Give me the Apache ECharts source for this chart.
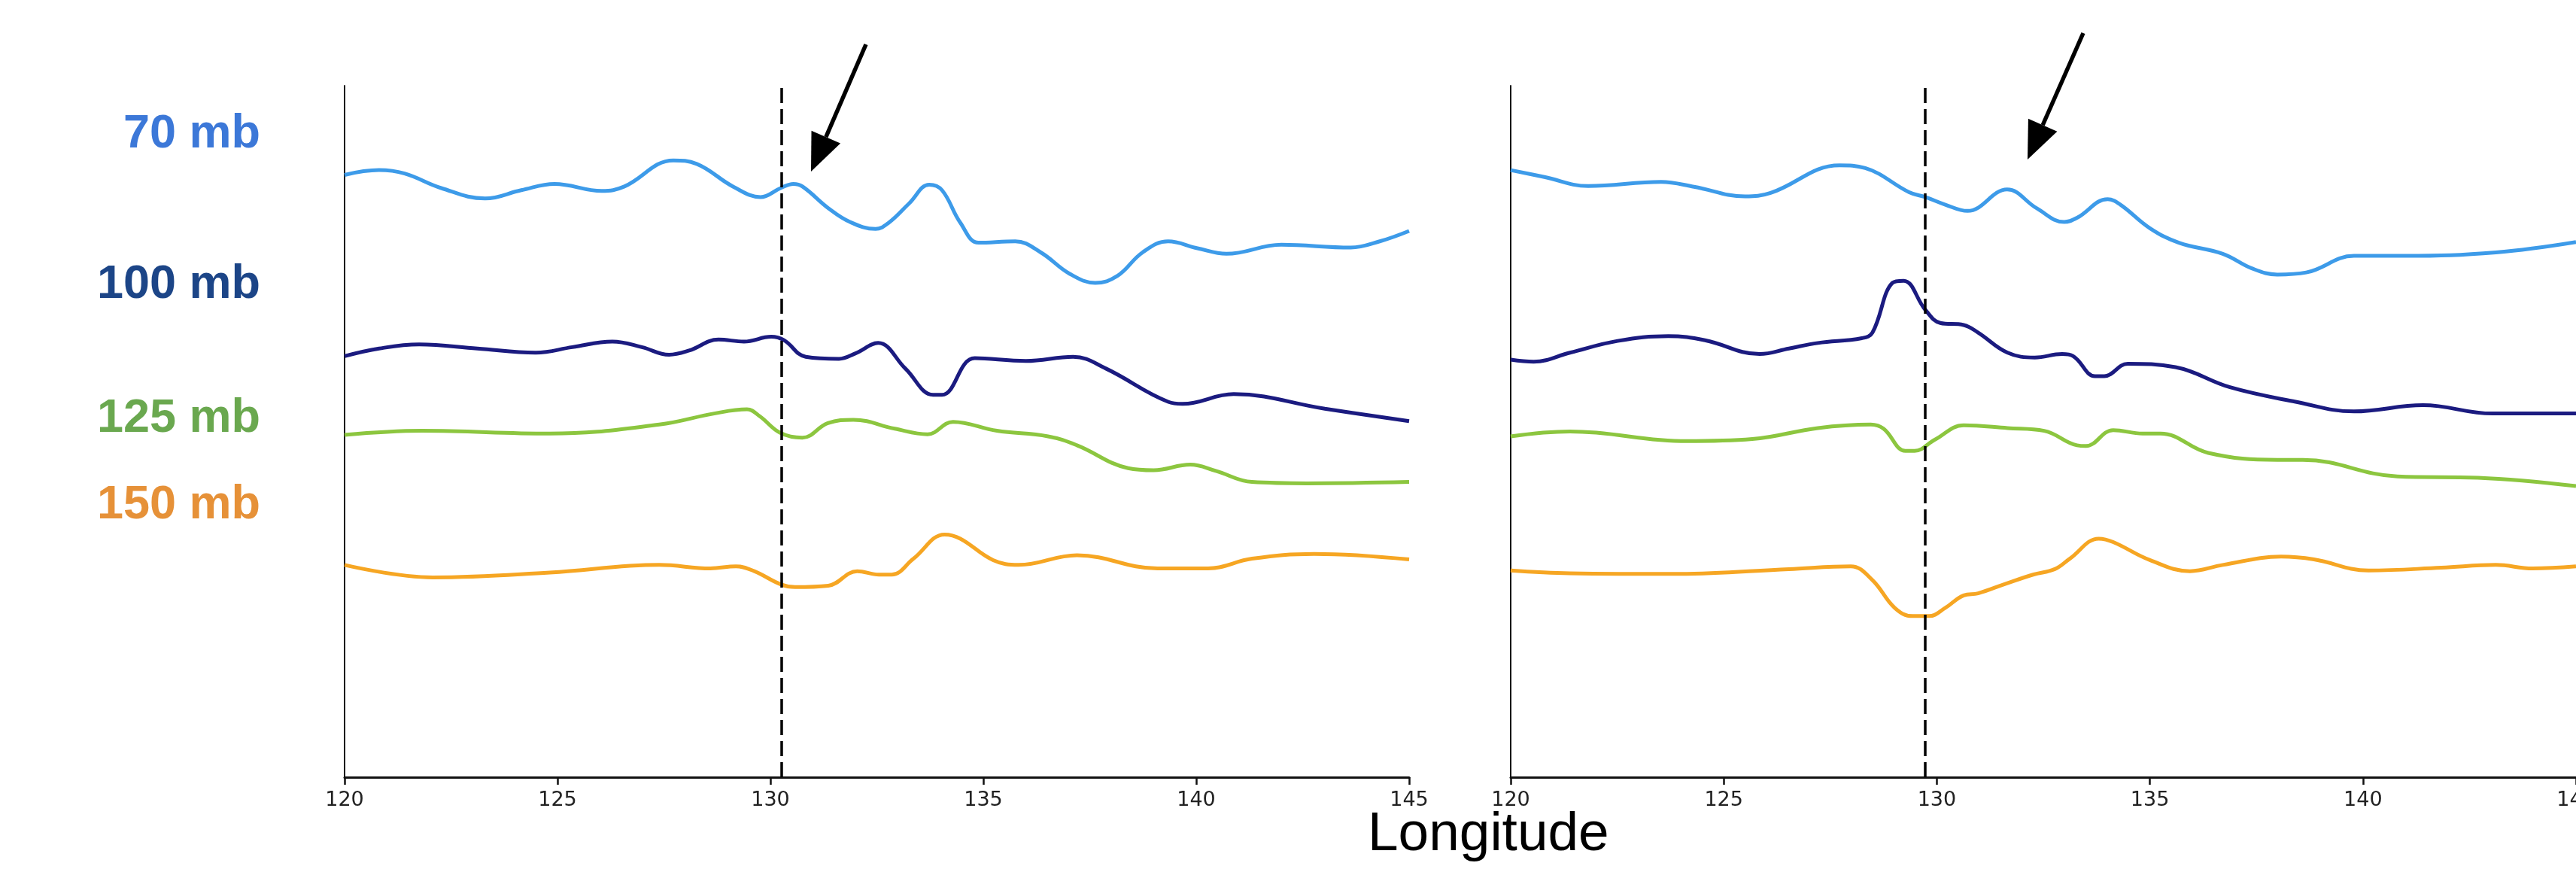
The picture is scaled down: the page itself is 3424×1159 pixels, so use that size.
<!DOCTYPE html>
<html>
<head>
<meta charset="utf-8">
<title>Longitude cross-sections</title>
<script src="https://cdn.jsdelivr.net/npm/echarts@6/dist/echarts.min.js"></script>
<style>
	html,body{margin:0;padding:0;background:#fff;overflow:hidden;}
	#main{width:3424px;height:1159px;}
</style>
</head>
<body>
<div id="main"></div>
<script>

/* longitude ticks */
const lonTicks = [120, 125, 130, 135, 140, 145];

/* pressure levels, label colours, line colours */
const levels      = ["70 mb", "100 mb", "125 mb", "150 mb"];
const labelColors = ["#3c78d8", "#1c4587", "#6aa84f", "#e69138"];
const lineColors  = ["#3d9be9", "#1b1b80", "#8cc63f", "#f6a623"];

/* dashed reference longitude, one per panel */
const markLon = [130.26, 129.73];

/* left panel: [longitude, relative height] */
const left70 = [[120.0,87.1],[120.81,87.8],[121.41,87.3],[122.27,85.2],[123.30,83.7],[124.15,84.9],[124.93,85.8],[126.04,84.8],[126.56,85.4],[127.72,89.2],[128.27,88.7],[129.13,85.4],[129.77,83.9],[130.24,85.2],[130.54,85.8],[130.76,85.4],[131.36,82.3],[131.87,80.3],[132.47,79.3],[132.78,80.2],[133.26,83.0],[133.73,85.7],[134.03,84.9],[134.46,80.2],[134.89,77.3],[135.75,77.5],[136.35,75.9],[137.03,72.8],[137.63,71.5],[138.15,72.5],[138.74,75.9],[139.34,77.5],[140.03,76.5],[140.71,75.7],[142.0,77.0],[143.63,76.6],[144.31,77.5],[145.0,79.0]];
const left100 = [[120.0,60.9],[120.81,62.0],[121.75,62.6],[123.12,62.0],[124.49,61.4],[125.35,62.2],[126.29,63.0],[126.98,62.2],[127.62,61.1],[128.09,61.7],[128.78,63.3],[129.38,63.0],[130.02,63.7],[130.32,63.2],[130.83,60.8],[131.61,60.5],[132.0,61.3],[132.53,62.8],[133.17,59.1],[133.82,55.3],[134.03,55.3],[134.80,60.6],[136.00,60.2],[137.11,60.8],[137.88,59.1],[139.34,54.3],[139.68,54.0],[140.88,55.4],[143.02,53.3],[145.0,51.5]];
const left125 = [[120.0,49.5],[121.82,50.1],[124.82,49.7],[127.39,51.0],[128.68,52.6],[129.45,53.2],[129.75,52.2],[130.23,49.8],[130.75,49.1],[131.35,51.2],[131.95,51.7],[132.92,50.4],[133.69,49.6],[134.29,51.4],[135.32,50.1],[136.52,49.3],[137.20,48.0],[138.40,44.7],[139.00,44.4],[139.86,45.2],[140.46,44.3],[141.31,42.7],[142.60,42.5],[145.0,42.7]];
const left150 = [[120.0,30.7],[122.07,28.9],[124.82,29.6],[127.39,30.7],[128.59,30.2],[129.19,30.5],[129.62,29.8],[130.24,27.9],[130.58,27.5],[131.36,27.7],[132.04,29.8],[132.55,29.3],[132.85,29.3],[133.36,31.6],[134.09,35.1],[134.46,34.5],[135.23,31.4],[135.83,30.7],[137.20,32.1],[139.09,30.2],[140.28,30.2],[141.31,31.6],[142.77,32.3],[145.0,31.5]];

/* right panel */
const right70 = [[120.0,87.8],[120.79,86.8],[121.82,85.5],[123.53,86.1],[124.30,85.4],[125.50,84.0],[126.10,84.5],[127.72,88.5],[128.32,88.1],[129.35,84.6],[129.73,83.9],[130.20,82.8],[130.72,81.9],[131.65,85.0],[132.34,82.3],[132.99,80.3],[133.29,80.9],[134.01,83.6],[134.31,82.8],[135.0,79.4],[135.68,77.3],[136.71,75.7],[137.39,73.6],[137.99,72.7],[138.67,73.0],[139.79,75.4],[140.98,75.4],[143.12,75.9],[145.0,77.4]];
const right100 = [[120.0,60.4],[120.54,60.1],[121.39,61.4],[122.51,63.1],[123.70,63.8],[124.56,63.2],[125.84,61.2],[126.53,62.0],[127.21,62.8],[128.24,63.5],[128.49,64.3],[128.96,71.5],[129.22,71.8],[129.73,67.6],[130.08,65.7],[130.63,65.4],[130.97,64.3],[131.66,61.4],[132.3,60.7],[132.94,61.2],[133.20,60.9],[133.71,58.0],[133.93,58.0],[134.48,59.8],[135.60,59.3],[136.88,56.4],[138.42,54.3],[139.79,52.9],[141.41,53.8],[143.04,52.6],[145.0,52.6]];
const right125 = [[120.0,49.3],[121.39,50.0],[124.13,48.6],[125.67,48.9],[127.21,50.5],[128.45,51.0],[128.75,50.4],[129.26,47.2],[129.48,47.2],[129.95,48.8],[130.63,50.9],[131.66,50.5],[132.52,50.1],[133.29,48.0],[133.50,47.9],[134.14,50.2],[134.83,49.7],[135.25,49.7],[136.37,46.9],[137.99,45.9],[138.59,45.9],[140.81,43.5],[142.70,43.3],[145.0,42.1]];
const right150 = [[120.0,29.9],[121.39,29.5],[123.96,29.4],[126.53,30.1],[127.98,30.5],[128.49,28.5],[129.01,24.5],[129.43,23.3],[129.82,23.3],[130.20,24.5],[130.63,26.3],[130.97,26.6],[131.58,27.9],[132.26,29.3],[132.77,30.1],[133.12,31.6],[133.80,34.5],[134.14,34.0],[135.0,31.4],[135.94,29.8],[136.71,30.7],[138.08,31.9],[138.85,31.5],[140.13,29.9],[141.84,30.3],[143.12,30.7],[143.98,30.2],[145.0,30.5]];

const panels = [
	[left70, left100, left125, left150],
	[right70, right100, right125, right150]
];

const chart = echarts.init(document.getElementById("main"), null, {renderer: "canvas"});

function makeX(gridIndex){
	return {
		type: "value", gridIndex,
		min: lonTicks[0], max: lonTicks[lonTicks.length - 1], interval: 5,
		axisLine: {show: true, onZero: false, lineStyle: {color: "#111", width: 3}},
		axisTick: {show: true, length: 10, lineStyle: {color: "#111", width: 2.5}},
		axisLabel: {
			show: true, margin: 17, color: "#222",
			fontFamily: "DejaVu Sans", fontSize: 27
		},
		splitLine: {show: false}
	};
}

function makeY(gridIndex){
	return {
		type: "value", gridIndex, min: 0, max: 100,
		axisLine: {show: true, lineStyle: {color: "#111", width: 2}},
		axisTick: {show: false},
		axisLabel: {show: false},
		splitLine: {show: false}
	};
}

const series = [];
panels.forEach((lines, p) => {
	lines.forEach((data, i) => {
		const s = {
			type: "line", xAxisIndex: p, yAxisIndex: p,
			data, smooth: 0.4, showSymbol: false, silent: true,
			lineStyle: {color: lineColors[i], width: 5},
			z: 3
		};
		// dashed longitude marker hangs on the first series of each panel
		if(i === 0){
			s.markLine = {
				silent: true, symbol: "none", animation: false,
				label: {show: false},
				lineStyle: {color: "#000", width: 3.5, type: [20, 8]},
				data: [{xAxis: markLon[p]}]
			};
		}
		series.push(s);
	});
});

// level names on the left
const labelY = [183, 383, 561, 676];
const levelTexts = levels.map((txt, i) => ({
	type: "text", right: 3424 - 346, top: labelY[i] - 36,
	style: {
		text: txt, fill: labelColors[i],
		font: "bold 63px 'Liberation Sans', Arial, sans-serif",
		textAlign: "right"
	}
}));

// arrow: shaft + triangular head
function arrow(top, tip){
	const dx = tip[0] - top[0], dy = tip[1] - top[1];
	const len = Math.sqrt(dx*dx + dy*dy);
	const ux = dx/len, uy = dy/len;
	const bx = tip[0] - 50*ux, by = tip[1] - 50*uy;
	return [
		{type: "line", shape: {x1: top[0], y1: top[1], x2: bx, y2: by},
		 style: {stroke: "#000", lineWidth: 5.5}},
		{type: "polygon",
		 shape: {points: [tip, [bx + 21*uy, by - 21*ux], [bx - 21*uy, by + 21*ux]]},
		 style: {fill: "#000"}}
	];
}

const gridBase = {top: 114, height: 919, containLabel: false, outerBoundsMode: "none"};

chart.setOption({
	animation: false,
	backgroundColor: "#fff",
	grid: [
		Object.assign({left: 458, width: 1415}, gridBase),
		Object.assign({left: 2008, width: 1416}, gridBase)
	],
	xAxis: [makeX(0), makeX(1)],
	yAxis: [makeY(0), makeY(1)],
	series,
	graphic: [
		...levelTexts,
		{
			type: "text", left: 1818, top: 1073,
			style: {
				text: "Longitude", fill: "#000",
				font: "73px 'Liberation Sans', Arial, sans-serif"
			}
		},
		...arrow([1151, 59], [1078, 228]),
		...arrow([2769, 44], [2695, 212])
	]
});

</script>
</body>
</html>
